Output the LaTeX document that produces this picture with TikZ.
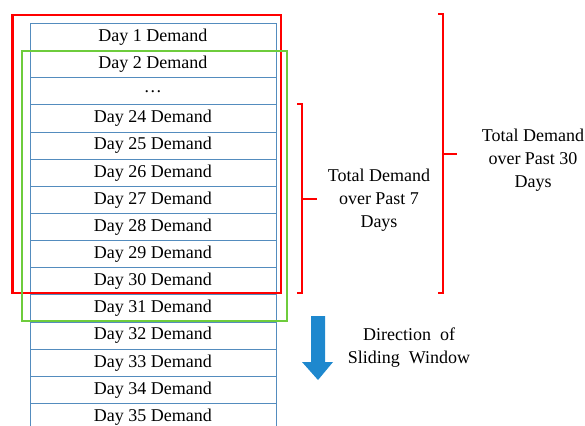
\documentclass[tikz,border=0pt]{standalone}
\usepackage{fontspec}
\setmainfont{Liberation Serif}
\definecolor{cellblue}{RGB}{84,140,190}
\definecolor{framered}{RGB}{255,0,0}
\definecolor{framegreen}{RGB}{110,204,60}
\definecolor{arrowblue}{RGB}{30,136,206}
\begin{document}
\begin{tikzpicture}[x=1pt,y=-1pt,
  cell/.style={draw=cellblue, line width=0.9pt, minimum width=246pt,
    minimum height=27.14pt, inner sep=0pt, anchor=north west,
    font=\fontsize{18}{20}\selectfont},
  label/.style={align=center, inner sep=0pt,
    font=\fontsize{18}{23}\selectfont},
  window/.style={line width=2.8pt},
  bracket/.style={draw=framered, line width=1.8pt}]
\useasboundingbox (0,0) rectangle (585,425);

% column of daily demand cells
\foreach \t [count=\i from 0] in {Day 1 Demand, Day 2 Demand, \ldots,
  Day 24 Demand, Day 25 Demand, Day 26 Demand, Day 27 Demand,
  Day 28 Demand, Day 29 Demand, Day 30 Demand, Day 31 Demand,
  Day 32 Demand, Day 33 Demand, Day 34 Demand, Day 35 Demand}
  \node[cell] (r\i) at (29.5, {23+27.14*\i}) {\t};

% 30-day window and 7-day-shifted window
\draw[window, framered] (12.5,15) rectangle (281,293);
\draw[window, framegreen] (22,51) rectangle (287,321);

% bracket for the 7-day sum
\coordinate (b7t) at (302,104);
\coordinate (b7b) at (302,293);
\coordinate (b7m) at (302,199);
\draw[bracket] ([xshift=-5pt]b7t) -- (b7t) -- (b7b) -- ([xshift=-5pt]b7b);
\draw[bracket] (b7m) -- ([xshift=15pt]b7m);
\node[label] (l7) at (379,200) {Total Demand\\over Past 7\\Days};

% bracket for the 30-day sum
\coordinate (b30t) at (443,14);
\coordinate (b30b) at (443,293);
\coordinate (b30m) at (443,154);
\draw[bracket] ([xshift=-5pt]b30t) -- (b30t) -- (b30b) -- ([xshift=-5pt]b30b);
\draw[bracket] (b30m) -- ([xshift=14pt]b30m);
\node[label] (l30) at (533,160) {Total Demand\\over Past 30\\Days};

% sliding direction
\fill[arrowblue] (311,316) -- (325,316) -- (325,362) -- (333,362)
  -- (318,380) -- (302,362) -- (311,362) -- cycle;
\node[label] (dir) at (409,348) {Direction \ of\\Sliding \ Window};
\end{tikzpicture}
\end{document}
